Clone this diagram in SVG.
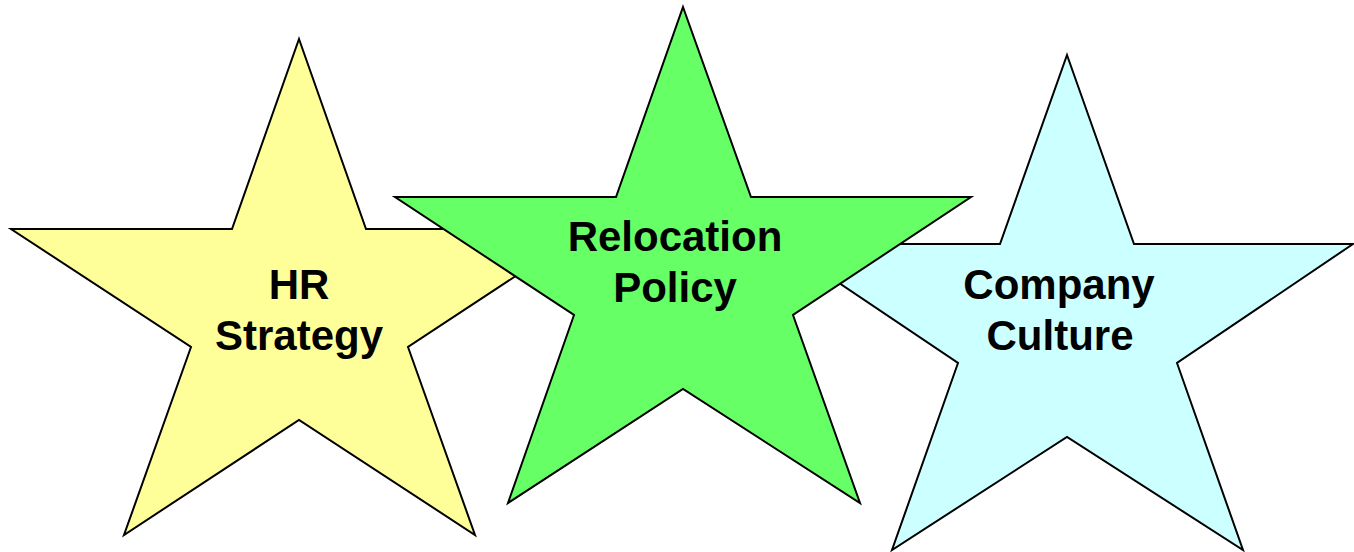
<svg xmlns="http://www.w3.org/2000/svg" width="1354" height="552" viewBox="0 0 1354 552">
<style>
.star{stroke:#000;stroke-width:2;stroke-linejoin:miter}
.lbl{font-family:"Liberation Sans",Arial,sans-serif;font-weight:bold;font-size:42px;fill:#000;text-anchor:middle}
</style>
<rect width="1354" height="552" fill="#fff"/>
<g id="hr-strategy">
<polygon class="star" fill="#FFFF99" points="299,39 366,229 587,229 408,347 475,535 299,420 124,535 191,347 11,229 232,229"/>
<text class="lbl" x="299" y="299">HR</text>
<text class="lbl" x="299" y="350">Strategy</text>
</g>
<g id="company-culture">
<polygon class="star" fill="#CCFFFF" points="1067,55 1134,244 1353,244 1177,363 1243,550 1067,437 892,550 958,363 781,244 1000,244"/>
<text class="lbl" x="1059" y="299">Company</text>
<text class="lbl" x="1060" y="350">Culture</text>
</g>
<g id="relocation-policy">
<polygon class="star" fill="#66FF66" points="683,7 751,197 971,197 793,315 860,503 683,389 508,503 574,315 395,197 616,197"/>
<text class="lbl" x="675" y="251">Relocation</text>
<text class="lbl" x="675" y="302">Policy</text>
</g>
<g id="connectors"></g>
</svg>
